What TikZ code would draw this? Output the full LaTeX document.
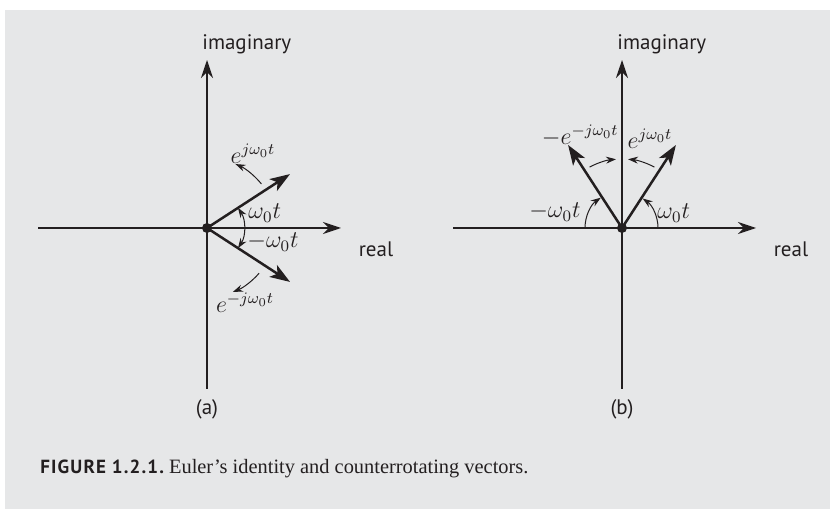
\documentclass[tikz,border=0pt]{standalone}
\usepackage{fontspec}
\setmainfont{Liberation Serif}
\setsansfont{PT Sans}
\usepackage{amsmath}
\usepackage{xcolor}
\usetikzlibrary{arrows.meta,positioning}
\definecolor{panelbg}{RGB}{230,231,232}
\definecolor{inkdark}{RGB}{35,31,32}

\begin{document}
\begin{tikzpicture}[x=0.5pt, y=0.5pt,
  axis/.style={-{Stealth[length=9pt, width=6pt]}, line width=0.65pt, inkdark},
  vec/.style={-{Stealth[length=10pt, width=7pt, inset=2.5pt]}, line width=1.25pt, inkdark},
  ang/.style={-{Stealth[length=5pt, width=3.5pt]}, line width=0.5pt, inkdark},
  lbl/.style={font=\sffamily\fontsize{10.5}{12}\selectfont, inkdark, inner sep=0pt},
  mlbl/.style={font=\fontsize{11.5}{13}\selectfont, inkdark, inner sep=0pt}
]
  \useasboundingbox (0,0) rectangle (830,509);
  \fill[panelbg] (5,0) rectangle (830,499);

  % (a) counterrotating pair about the real axis
  \coordinate (oa) at (207,281);
  \coordinate (axl) at (38,281);
  \coordinate (axr) at (341,281);
  \coordinate (ayb) at (207,120);
  \coordinate (ayt) at (207,449);
  \draw[axis] (axl) -- (axr);
  \draw[axis] (ayb) -- (ayt);
  \node[lbl, anchor=west] (imga) at (202,465) {imaginary};
  \node[lbl] (rea) at (376,260) {real};
  \node[lbl] (capa) at (207,100) {(a)};
  \coordinate (pa) at ([shift={(33:99)}]oa);
  \coordinate (ma) at ([shift={(-33:99)}]oa);
  \draw[vec] (oa) -- (pa);
  \draw[vec] (oa) -- (ma);
  \fill[inkdark] (oa) circle (5);
  \draw[ang, {Stealth[length=5pt, width=3.5pt]}-{Stealth[length=5pt, width=3.5pt]}]
    ([shift={(-33:37)}]oa) arc[start angle=-33, end angle=33, radius=37];
  \draw[ang] ([shift={(39:70)}]oa) arc[start angle=39, end angle=66, radius=70];
  \draw[ang] ([shift={(-41:69)}]oa) arc[start angle=-41, end angle=-68, radius=69];
  \node[mlbl, anchor=west] (wa) at (248,296) {$\omega_0 t$};
  \node[mlbl, anchor=west] (nwa) at (247,267) {$-\omega_0 t$};
  \node[mlbl] (ea) at (253,355) {$e^{j\omega_0 t}$};
  \node[mlbl] (nea) at (245,206) {$e^{-j\omega_0 t}$};

  % (b) counterrotating pair about the imaginary axis
  \coordinate (ob) at (622,281);
  \coordinate (bxl) at (453,281);
  \coordinate (bxr) at (756,281);
  \coordinate (byb) at (622,120);
  \coordinate (byt) at (622,449);
  \draw[axis] (bxl) -- (bxr);
  \draw[axis] (byb) -- (byt);
  \node[lbl, anchor=west] (imgb) at (617,465) {imaginary};
  \node[lbl] (reb) at (791,260) {real};
  \node[lbl] (capb) at (622,100) {(b)};
  \coordinate (pb) at ([shift={(57:99)}]ob);
  \coordinate (mb) at ([shift={(123:99)}]ob);
  \draw[vec] (ob) -- (pb);
  \draw[vec] (ob) -- (mb);
  \fill[inkdark] (ob) circle (5);
  \draw[ang] ([shift={(0:36)}]ob) arc[start angle=0, end angle=55, radius=36];
  \draw[ang] ([shift={(180:37)}]ob) arc[start angle=180, end angle=125, radius=37];
  \draw[ang] ([shift={(62:69)}]ob) arc[start angle=62, end angle=85, radius=69];
  \draw[ang] ([shift={(118:69)}]ob) arc[start angle=118, end angle=95, radius=69];
  \node[mlbl, anchor=west] (wb) at (657,296) {$\omega_0 t$};
  \node[mlbl, anchor=east] (nwb) at (581,297) {$-\omega_0 t$};
  \node[mlbl] (eb) at (650,370) {$e^{j\omega_0 t}$};
  \node[mlbl, anchor=east] (neb) at (619,373) {$-e^{-j\omega_0 t}$};

  % caption
  \node[anchor=base west, inner sep=0pt, inkdark] (cap) at (40,36)
    {{\sffamily\bfseries\fontsize{9.5}{11}\selectfont\addfontfeatures{LetterSpace=6}FIGURE 1.2.1.}\fontsize{10.2}{12}\selectfont\ Euler's identity and counterrotating vectors.};
\end{tikzpicture}
\end{document}
